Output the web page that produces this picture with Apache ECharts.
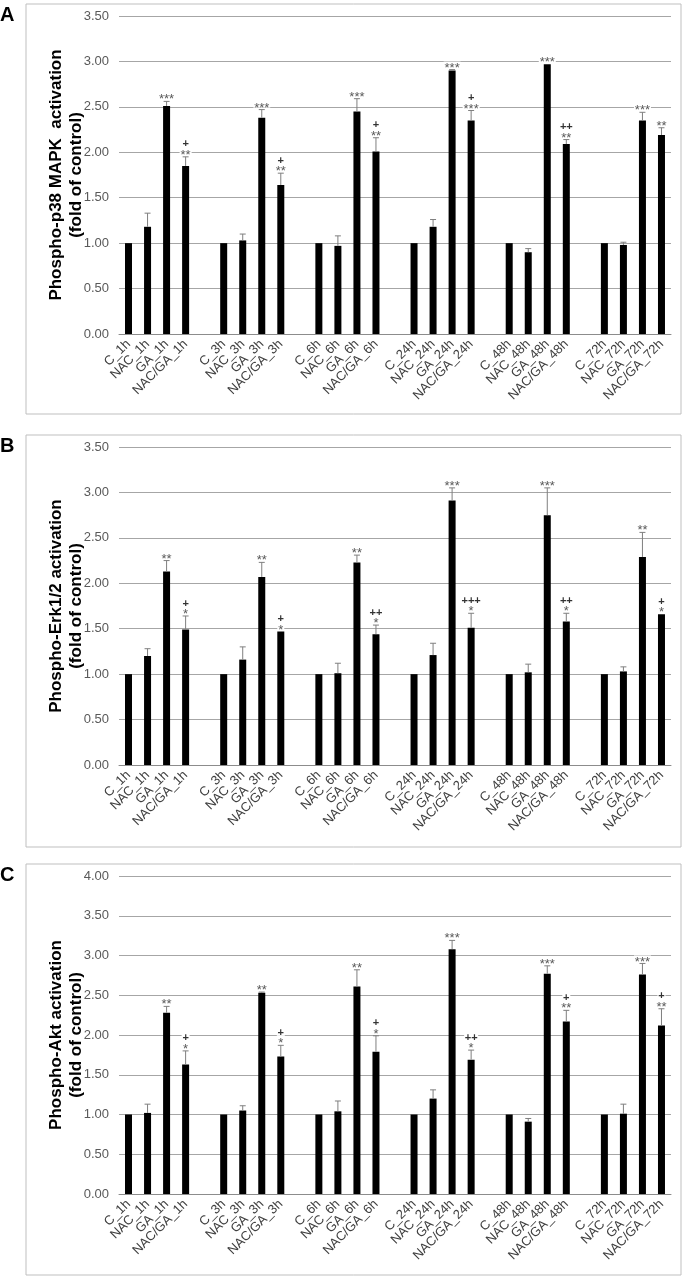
<!DOCTYPE html>
<html>
<head>
<meta charset="utf-8">
<script src="https://cdn.jsdelivr.net/npm/echarts@6/dist/echarts.min.js"></script>
<style>
  html, body { margin: 0; padding: 0; background: #fff; }
  #chart { width: 685px; height: 1278px; }
</style>
</head>
<body>
<div id="chart"></div>
<script>
// categories
const timePoints = ['1h', '3h', '6h', '24h', '48h', '72h'];
const treatments = ['C', 'NAC', 'GA', 'NAC/GA'];

// panel A: phospho-p38 MAPK
const p38Mean = [1.00, 1.18, 2.51, 1.85, 1.00, 1.03, 2.38, 1.64, 1.00, 0.97, 2.45, 2.01,
                 1.00, 1.18, 2.90, 2.35, 1.00, 0.90, 2.97, 2.09, 1.00, 0.98, 2.35, 2.19];
const p38Err  = [0, 0.15, 0.05, 0.10, 0, 0.07, 0.09, 0.13, 0, 0.11, 0.14, 0.15,
                 0, 0.08, 0.01, 0.11, 0, 0.04, 0.00, 0.05, 0, 0.03, 0.09, 0.08];
const p38Stars = ['', '', '***', '**', '', '', '***', '**', '', '', '***', '**',
                  '', '', '***', '***', '', '', '***', '**', '', '', '***', '**'];
const p38Plus  = ['', '', '', '+', '', '', '', '+', '', '', '', '+',
                  '', '', '', '+', '', '', '', '++', '', '', '', ''];

// panel B: phospho-Erk1/2
const erkMean = [1.00, 1.20, 2.13, 1.49, 1.00, 1.16, 2.07, 1.47, 1.00, 1.01, 2.23, 1.44,
                 1.00, 1.21, 2.91, 1.51, 1.00, 1.02, 2.75, 1.58, 1.00, 1.03, 2.29, 1.66];
const erkErr  = [0, 0.08, 0.12, 0.15, 0, 0.14, 0.16, 0.00, 0, 0.11, 0.08, 0.10,
                 0, 0.13, 0.14, 0.16, 0, 0.09, 0.30, 0.09, 0, 0.05, 0.27, 0.00];
const erkStars = ['', '', '**', '*', '', '', '**', '*', '', '', '**', '*',
                  '', '', '***', '*', '', '', '***', '*', '', '', '**', '*'];
const erkPlus  = ['', '', '', '+', '', '', '', '+', '', '', '', '++',
                  '', '', '', '+++', '', '', '', '++', '', '', '', '+'];

// panel C: phospho-Akt
const aktMean = [1.00, 1.02, 2.28, 1.63, 1.00, 1.05, 2.53, 1.73, 1.00, 1.04, 2.61, 1.79,
                 1.00, 1.20, 3.08, 1.69, 1.00, 0.91, 2.77, 2.17, 1.00, 1.01, 2.76, 2.12];
const aktErr  = [0, 0.11, 0.08, 0.17, 0, 0.06, 0.01, 0.14, 0, 0.13, 0.21, 0.20,
                 0, 0.11, 0.11, 0.12, 0, 0.04, 0.10, 0.14, 0, 0.12, 0.14, 0.21];
const aktStars = ['', '', '**', '*', '', '', '**', '*', '', '', '**', '*',
                  '', '', '***', '*', '', '', '***', '**', '', '', '***', '**'];
const aktPlus  = ['', '', '', '+', '', '', '', '+', '', '', '', '+',
                  '', '', '', '++', '', '', '', '+', '', '', '', '+'];

// axis ticks
const yMaxA = 3.5, yMaxB = 3.5, yMaxC = 4.0, yStep = 0.5;

// 每组之间留一个空位
const slots = [];
const slotOf = [];
timePoints.forEach((t, g) => {
    treatments.forEach((tr) => {
        slotOf.push(slots.length);
        slots.push(tr + '_' + t);
    });
    if (g < timePoints.length - 1) slots.push('');
});

const panels = [
    { name: 'Phospho-p38 MAPK  activation\n(fold of control)', mean: p38Mean, err: p38Err, stars: p38Stars, plus: p38Plus, max: yMaxA, top: 16, letter: 'A', box: [26, 4, 655, 410] },
    { name: 'Phospho-Erk1/2 activation\n(fold of control)', mean: erkMean, err: erkErr, stars: erkStars, plus: erkPlus, max: yMaxB, top: 447, letter: 'B', box: [26, 435, 655, 412] },
    { name: 'Phospho-Akt activation\n(fold of control)', mean: aktMean, err: aktErr, stars: aktStars, plus: aktPlus, max: yMaxC, top: 876, letter: 'C', box: [26, 864, 655, 411] },
];

const FONT = 'Liberation Sans, Arial, sans-serif';
const grid = [], xAxis = [], yAxis = [], series = [], graphic = [];

panels.forEach((p, k) => {
    grid.push({ left: 119, width: 552, top: p.top, height: 318 });
    xAxis.push({
        type: 'category', gridIndex: k, data: slots,
        axisTick: { show: false },
        axisLine: { lineStyle: { color: '#8c8c8c', width: 1 } },
        axisLabel: { interval: 0, rotate: 45, margin: 8, fontSize: 13, color: '#404040', fontFamily: FONT },
    });
    yAxis.push({
        type: 'value', gridIndex: k, min: 0, max: p.max, interval: yStep,
        axisLine: { show: false }, axisTick: { show: false },
        splitLine: { lineStyle: { color: '#a6a6a6', width: 1 } },
        axisLabel: { margin: 10, fontSize: 13, color: '#595959', fontFamily: FONT, formatter: (v) => v.toFixed(2) },
        name: p.name, nameLocation: 'middle', nameGap: 33, nameMoveOverlap: false,
        nameTextStyle: { fontSize: 17, fontWeight: 'bold', color: '#000', fontFamily: FONT, lineHeight: 20 },
    });

    const barData = slots.map(() => null);
    p.mean.forEach((v, i) => { barData[slotOf[i]] = v; });
    series.push({
        type: 'bar', xAxisIndex: k, yAxisIndex: k, data: barData,
        barWidth: 7, itemStyle: { color: '#000' }, silent: true, z: 2,
    });

    const errData = p.mean.map((v, i) => [slotOf[i], v, p.err[i]]);
    series.push({
        type: 'custom', xAxisIndex: k, yAxisIndex: k, data: errData, z: 3, silent: true,
        renderItem: (params, api) => {
            const i = params.dataIndex;
            const x = api.value(0), m = api.value(1), e = api.value(2);
            const base = api.coord([x, m]);
            const tip = api.coord([x, m + e]);
            const children = [];
            if (e > 0) {
                children.push({ type: 'line', shape: { x1: base[0], y1: base[1], x2: tip[0], y2: tip[1] }, style: { stroke: '#7f7f7f', lineWidth: 1 } });
                children.push({ type: 'line', shape: { x1: tip[0] - 3, y1: tip[1], x2: tip[0] + 3, y2: tip[1] }, style: { stroke: '#7f7f7f', lineWidth: 1 } });
            }
            const sy = tip[1] - 5;  // 星号中心
            const py = sy - 8;      // 加号中心
            const s = p.stars[i], pl = p.plus[i];
            if (s) {
                const w = s.length * 5 + 2;
                children.push({ type: 'rect', shape: { x: tip[0] - w / 2, y: sy - 3, width: w, height: 6 }, style: { fill: '#fff' } });
                children.push({
                    type: 'text', x: tip[0], y: sy + 3.5,
                    style: { text: s, fontSize: 13, fontFamily: FONT, fill: '#595959', align: 'center', verticalAlign: 'middle' },
                });
            }
            if (pl) {
                const w = pl.length * 6 + 2;
                children.push({ type: 'rect', shape: { x: tip[0] - w / 2, y: py - 3.5, width: w, height: 7 }, style: { fill: '#fff' } });
                children.push({
                    type: 'text', x: tip[0], y: py + 0.5,
                    style: { text: pl, fontSize: 11, fontWeight: 'bold', fontFamily: FONT, fill: '#333', align: 'center', verticalAlign: 'middle' },
                });
            }
            return { type: 'group', children };
        },
    });

    graphic.push({
        type: 'rect', shape: { x: p.box[0], y: p.box[1], width: p.box[2], height: p.box[3] },
        style: { fill: 'none', stroke: '#bfbfbf', lineWidth: 1 }, z: -1,
    });
    graphic.push({
        type: 'text', left: 0, top: p.box[1] + 1,
        style: { text: p.letter, fontSize: 20, fontWeight: 'bold', fontFamily: FONT, fill: '#000' },
    });
});

const chart = echarts.init(document.getElementById('chart'));
chart.setOption({
    animation: false,
    grid, xAxis, yAxis, series, graphic,
});
</script>
</body>
</html>
